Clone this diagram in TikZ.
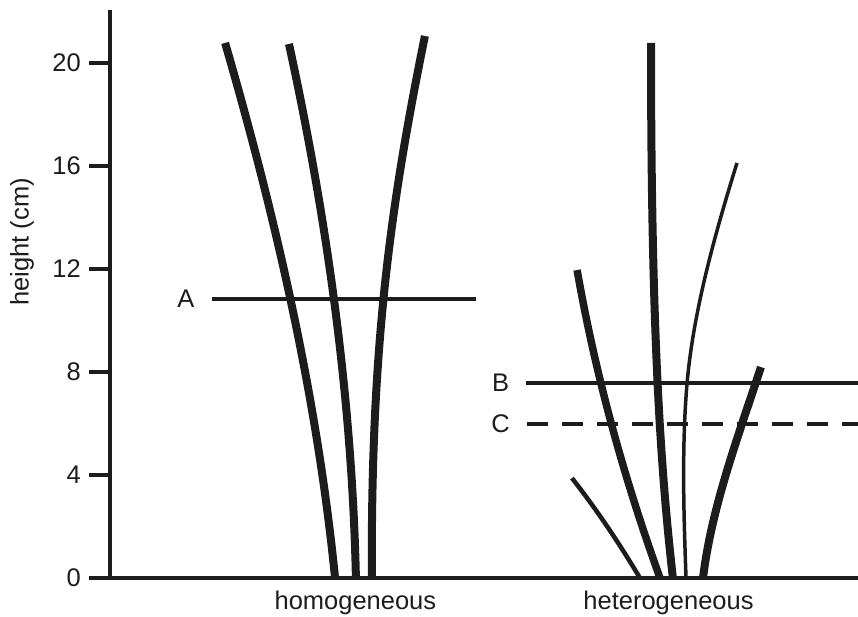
\documentclass[tikz,border=0pt]{standalone}
\usepackage{fontspec}
\setmainfont{Liberation Sans}
\usepackage{tikz}
\usetikzlibrary{positioning}
\definecolor{Ink}{HTML}{1C1C1C}

\begin{document}
\begin{tikzpicture}[x=25.75pt,y=25.75pt,
    font=\fontsize{25.5}{30}\selectfont,
    axis/.style={draw=Ink,line width=4pt},
    stem/.style={draw=Ink,line width=8pt},
    thinstem/.style={draw=Ink,line width=3.5pt},
    level/.style={draw=Ink,line width=3.5pt},
    lbl/.style={inner sep=0pt,text=Ink}
  ]
    \useasboundingbox (-4.272,-1.476) rectangle (29.049,22.447);
    \draw[axis] (0,22.06) -- (0,0) -- (29.049,0);
    \draw[axis] (-0.82,0) -- (0,0);
    \foreach \v in {4,8,...,20}
      \draw[axis] (-0.82,\v) -- (0,\v);
    \foreach \v in {0,4,...,20}
      \node[lbl,anchor=east] (t\v) at (-1.13,\v) {\v};
    \node[lbl,rotate=90] (ylab) at (-3.42,13.05) {height (cm)};
    \node[lbl,anchor=base] (homo) at (9.53,-1.22) {homogeneous};
    \node[lbl,anchor=base] (hetero) at (21.69,-1.22) {heterogeneous};
    \draw[stem] (8.74,0) .. controls (8.05,6.93) and (6.48,13.85) .. (4.47,20.78);
    \draw[stem] (9.55,0) .. controls (9.40,6.91) and (8.45,13.83) .. (6.95,20.74);
    \draw[stem] (10.17,0) .. controls (10.12,9) and (10.9,14.5) .. (12.23,21.05);
    \node[lbl] (A) at (2.95,10.83) {A};
    \coordinate (aend) at (14.21,10.83);
    \draw[level] ([xshift=17pt]A.east) -- (aend);
    \draw[stem,line width=7.5pt] (21.36,0) .. controls (19.92,3.99) and (18.84,7.97) .. (18.14,11.96);
    \draw[stem] (21.86,0) .. controls (21.35,4.5) and (21.01,10) .. (21.01,20.78);
    \draw[thinstem] (22.37,0) .. controls (22.28,2.5) and (22.20,5.07) .. (22.41,7.57)
      .. controls (22.66,10.37) and (23.48,13.32) .. (24.35,16.12);
    \draw[stem] (23.03,0) .. controls (23.36,2.73) and (24.38,5.46) .. (25.28,8.19);
    \draw[thinstem,line width=4.5pt] (20.58,0) .. controls (19.81,1.29) and (18.95,2.59) .. (17.94,3.88);
    \node[lbl] (B) at (15.17,7.57) {B};
    \node[lbl] (C) at (15.17,5.98) {C};
    \coordinate (bend) at (29.049,7.57);
    \coordinate (cend) at (29.049,5.98);
    \draw[level] ([xshift=17pt]B.east) -- (bend);
    \draw[level,dash pattern=on 21pt off 14pt] ([xshift=17pt]C.east) -- (cend);
  \end{tikzpicture}
\end{document}
